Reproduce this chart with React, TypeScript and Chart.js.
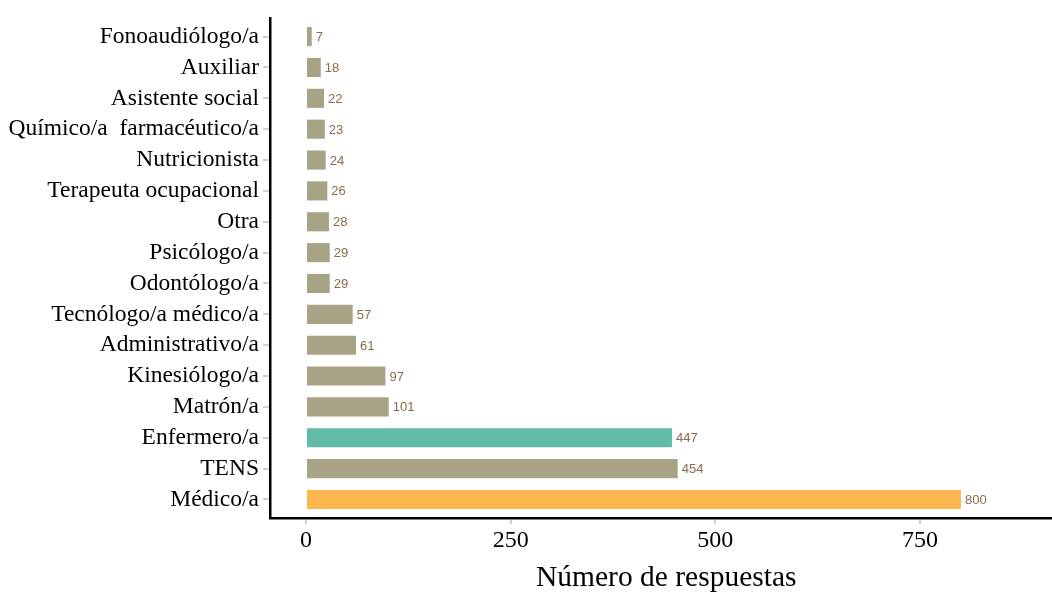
import React, { useEffect, useRef } from "react";
import { Chart, registerables } from "chart.js";

Chart.register(...registerables);

const categories = [
  "Médico/a",
  "TENS",
  "Enfermero/a",
  "Matrón/a",
  "Kinesiólogo/a",
  "Administrativo/a",
  "Tecnólogo/a médico/a",
  "Odontólogo/a",
  "Psicólogo/a",
  "Otra",
  "Terapeuta ocupacional",
  "Nutricionista",
  "Químico/a  farmacéutico/a",
  "Asistente social",
  "Auxiliar",
  "Fonoaudiólogo/a",
];
const values = [800, 454, 447, 101, 97, 61, 57, 29, 29, 28, 26, 24, 23, 22, 18, 7];
const xTicks = [0, 250, 500, 750];
const xTitle = "Número de respuestas";
const xMin = -44;
const xMax = 910;
const panelMax = 924; // full (cropped) panel extent, used to centre the axis title
const highlight: Record<string, string> = {
  "Médico/a": "#FDB74F",
  "Enfermero/a": "#62BBA7",
};
const baseColor = "#A9A386";
const labelColor = "#8B6B4A";
const serif = "'Liberation Serif', 'Times New Roman', serif";

const valueLabels = {
  id: "valueLabels",
  afterDatasetsDraw(chart: any) {
    const ctx = chart.ctx;
    const meta = chart.getDatasetMeta(0);
    ctx.save();
    ctx.font = "13px 'Liberation Sans', Arial, sans-serif";
    ctx.fillStyle = labelColor;
    ctx.textAlign = "left";
    ctx.textBaseline = "middle";
    meta.data.forEach((bar: any, i: number) => {
      ctx.fillText(String(values[i]), bar.x + 4, bar.y + 1);
    });
    // x axis title
    const xs = chart.scales.x;
    ctx.font = `29.5px ${serif}`;
    ctx.fillStyle = "#000";
    ctx.textAlign = "center";
    ctx.textBaseline = "middle";
    ctx.fillText(xTitle, xs.getPixelForValue((xMin + panelMax) / 2), chart.height - 14);
    ctx.restore();
  },
};

export default function App() {
  const ref = useRef<HTMLCanvasElement>(null);
  useEffect(() => {
    if (!ref.current) return;
    const chart = new Chart(ref.current, {
      type: "bar",
      data: {
        datasets: [
          {
            data: values.map((v, i) => ({ x: v, y: i })) as any,
            backgroundColor: categories.map((c) => highlight[c] || baseColor),
            barPercentage: 0.62,
            categoryPercentage: 1,
          },
        ],
      },
      options: {
        indexAxis: "y",
        animation: false,
        responsive: false,
        devicePixelRatio: 1,
        layout: { padding: { top: 16, right: 1, left: 0, bottom: 0 } },
        plugins: { legend: { display: false }, tooltip: { enabled: false } },
        scales: {
          y: {
            type: "linear",
            min: -0.6,
            max: 15.6,
            offset: false,
            afterBuildTicks: (axis: any) => {
              axis.ticks = categories.map((_, i) => ({ value: i }));
            },
            afterFit: (scale: any) => {
              scale.width = 270;
            },
            border: { display: true, color: "#000", width: 2.5 },
            grid: {
              display: true,
              offset: false,
              drawOnChartArea: false,
              drawTicks: true,
              tickLength: 7,
              color: "#cfcfcf",
              lineWidth: 2,
            },
            ticks: {
              autoSkip: false,
              padding: 4,
              color: "#000",
              font: { family: serif, size: 23.5 },
              callback: (v: any) => categories[v as number] ?? "",
            },
          },
          x: {
            type: "linear",
            min: xMin,
            max: xMax,
            afterBuildTicks: (axis: any) => {
              axis.ticks = xTicks.map((v) => ({ value: v }));
            },
            afterFit: (scale: any) => {
              scale.height = 74;
            },
            border: { display: true, color: "#000", width: 2.5 },
            grid: {
              display: true,
              drawOnChartArea: false,
              drawTicks: true,
              tickLength: 6,
              color: "#cfcfcf",
              lineWidth: 2,
            },
            ticks: {
              padding: 2,
              color: "#000",
              font: { family: serif, size: 24 },
            },
            title: { display: false },
          },
        },
      },
      plugins: [valueLabels],
    });
    return () => chart.destroy();
  }, []);
  return (
    <div style={{ position: "fixed", left: 0, top: 0, width: 1052, height: 592, background: "#fff", overflow: "hidden" }}>
      <canvas ref={ref} width={1052} height={592} />
    </div>
  );
}
